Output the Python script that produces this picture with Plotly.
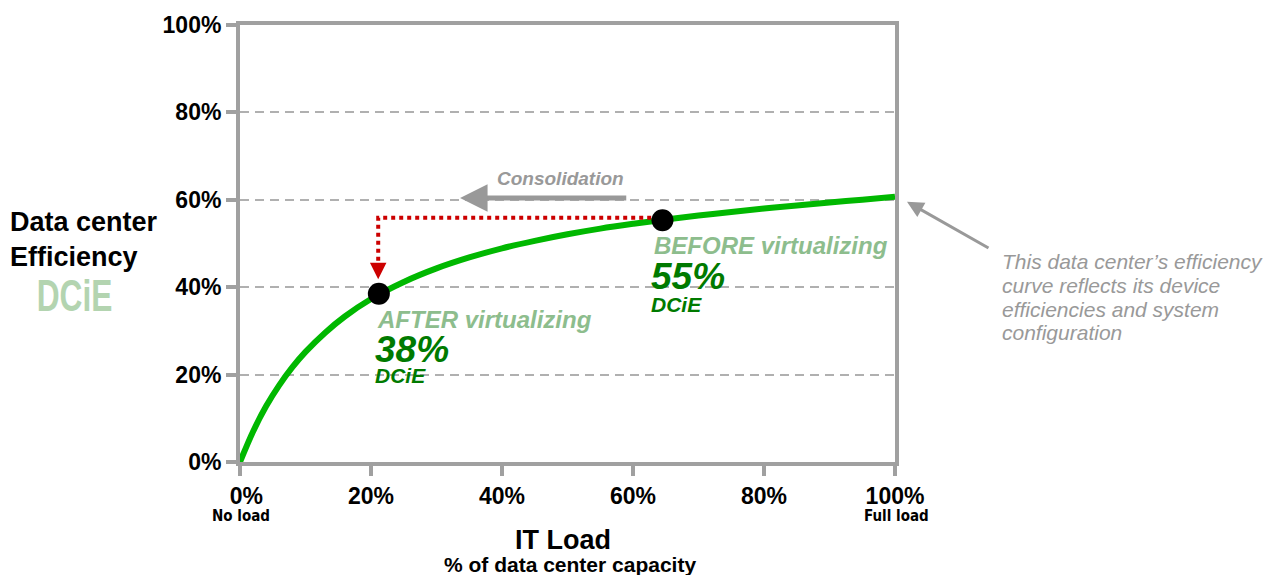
import plotly.graph_objects as go

# ---- data ----
load_pct = [0, 2, 4, 6, 8, 10, 13, 16, 20, 25, 30, 35, 40, 45, 50, 55, 60, 65, 70, 75, 80, 85, 90, 95, 100]
dcie = [0.0, 0.07, 0.128, 0.176, 0.217, 0.252, 0.296, 0.333, 0.373, 0.412, 0.443, 0.468,
        0.489, 0.506, 0.521, 0.534, 0.545, 0.555, 0.564, 0.572, 0.580, 0.587, 0.594, 0.600, 0.607]

point_x = [21.2, 64.5]
point_y = [0.385, 0.553]

consol_x = [64.0, 21.1, 21.1]
consol_y = [0.559, 0.559, 0.44]

x_ticks = [0, 20, 40, 60, 80, 100]
x_ticktext = ["\u20070%", "20%", "40%", "60%", "80%", "100%"]
y_ticks = [0, 0.2, 0.4, 0.6, 0.8, 1.0]
y_ticktext = ["0%", "20%", "40%", "60%", "80%", "100%"]

note_lines = ["This data center’s efficiency", "curve reflects its device",
              "efficiencies and system", "configuration"]

FONT = "Liberation Sans, Arial, sans-serif"
NARROW = "DejaVu Sans Condensed, Liberation Sans Narrow, Arial Narrow, Liberation Sans, sans-serif"
GREY = "#a0a0a0"
LIGHT_GREEN = "#8dbd8d"
DARK_GREEN = "#007a00"

fig = go.Figure()

fig.add_trace(go.Scatter(x=load_pct, y=dcie, mode="lines",
                         line=dict(color="#00b800", width=6, shape="spline"),
                         hoverinfo="skip", showlegend=False))

fig.add_trace(go.Scatter(x=consol_x, y=consol_y, mode="lines",
                         line=dict(color="#cc0000", width=4, dash="dot"),
                         hoverinfo="skip", showlegend=False))

fig.add_trace(go.Scatter(x=point_x, y=point_y, mode="markers",
                         marker=dict(color="black", size=22),
                         hoverinfo="skip", showlegend=False))


# paper coords relative to plot area: x 240..895 px, y 462..22 px
def px(xp):
    return (xp - 240) / 655.0


def py(yp):
    return (462 - yp) / 440.0


ann = []
# red arrowhead
ann.append(dict(x=21.1, y=0.418, ax=21.1, ay=0.445, xref="x", yref="y", axref="x", ayref="y",
                showarrow=True, arrowhead=2, arrowsize=1.1, arrowwidth=3, arrowcolor="#cc0000", text=""))
# consolidation arrow
ann.append(dict(x=33.6, y=0.604, ax=59.2, ay=0.604, xref="x", yref="y", axref="x", ayref="y",
                showarrow=True, arrowhead=2, arrowsize=1.1, arrowwidth=5, arrowcolor="#999999", text=""))
ann.append(dict(x=48.9, y=0.648, xref="x", yref="y", text="Consolidation", showarrow=False,
                font=dict(family=FONT, size=19, color="#999999", weight="bold", style="italic")))
# pointer arrow from right note
ann.append(dict(x=px(907), y=py(200), ax=83, ay=47, xref="paper", yref="paper",
                axref="pixel", ayref="pixel",
                showarrow=True, arrowhead=2, arrowsize=1.1, arrowwidth=3, arrowcolor="#999999", text=""))
note_y = [260, 284, 308, 332]
for line, ypix in zip(note_lines, note_y):
    ann.append(dict(x=px(1000), y=py(ypix), xref="paper", yref="paper", xanchor="left", yanchor="middle",
                    align="left", text=line, showarrow=False,
                    font=dict(family=FONT, size=21, color="#999999", style="italic")))

# BEFORE labels
ann.append(dict(x=62.9, y=0.495, xref="x", yref="y", xanchor="left", text="BEFORE virtualizing",
                showarrow=False, font=dict(family=FONT, size=24, color=LIGHT_GREEN, weight="bold", style="italic")))
ann.append(dict(x=62.5, y=0.425, xref="x", yref="y", xanchor="left", text="55%",
                showarrow=False, font=dict(family=FONT, size=37, color=DARK_GREEN, weight="bold", style="italic")))
ann.append(dict(x=62.5, y=0.361, xref="x", yref="y", xanchor="left", text="DCiE",
                showarrow=False, font=dict(family=FONT, size=21, color=DARK_GREEN, weight="bold", style="italic")))
# AFTER labels
ann.append(dict(x=20.6, y=0.325, xref="x", yref="y", xanchor="left", text="AFTER virtualizing",
                showarrow=False, font=dict(family=FONT, size=24, color=LIGHT_GREEN, weight="bold", style="italic")))
ann.append(dict(x=20.3, y=0.257, xref="x", yref="y", xanchor="left", text="38%",
                showarrow=False, font=dict(family=FONT, size=37, color=DARK_GREEN, weight="bold", style="italic")))
ann.append(dict(x=20.3, y=0.197, xref="x", yref="y", xanchor="left", text="DCiE",
                showarrow=False, font=dict(family=FONT, size=21, color=DARK_GREEN, weight="bold", style="italic")))

# axis titles
ann.append(dict(x=px(8), y=py(238), xref="paper", yref="paper", xanchor="left", yanchor="middle", align="left",
                text="Data center<br>Efficiency", showarrow=False,
                font=dict(family=FONT, size=27, color="black", weight="bold")))
ann.append(dict(x=px(74), y=py(294), xref="paper", yref="paper", xanchor="center", yanchor="middle",
                text="DCiE", showarrow=False,
                font=dict(family=FONT, size=44, color="#b3d4b0", weight="bold")))
ann.append(dict(x=px(241), y=py(516), xref="paper", yref="paper", xanchor="center", yanchor="middle",
                text="No load", showarrow=False,
                font=dict(family=NARROW, size=15, color="black", weight="bold")))
ann.append(dict(x=px(896), y=py(516), xref="paper", yref="paper", xanchor="center", yanchor="middle",
                text="Full load", showarrow=False,
                font=dict(family=NARROW, size=15, color="black", weight="bold")))
ann.append(dict(x=px(563), y=py(541), xref="paper", yref="paper", xanchor="center", yanchor="middle",
                text="IT Load", showarrow=False,
                font=dict(family=FONT, size=27, color="black", weight="bold")))
ann.append(dict(x=px(570), y=py(565), xref="paper", yref="paper", xanchor="center", yanchor="middle",
                text="% of data center capacity", showarrow=False,
                font=dict(family=FONT, size=21, color="black", weight="bold")))

fig.update_layout(
    width=1268, height=575,
    margin=dict(l=240, r=373, t=22, b=113),
    paper_bgcolor="white", plot_bgcolor="white",
    annotations=ann,
    showlegend=False,
)

fig.update_xaxes(range=[0, 100], tickvals=x_ticks, ticktext=x_ticktext,
                 showline=True, mirror=True, linewidth=4, linecolor=GREY,
                 ticks="outside", ticklen=10, tickwidth=4, tickcolor=GREY,
                 showgrid=False, zeroline=False,
                 tickfont=dict(family=FONT, size=23, color="black", weight="bold"))
fig.update_yaxes(range=[0, 1], tickvals=y_ticks, ticktext=y_ticktext,
                 showline=True, mirror=True, linewidth=4, linecolor=GREY,
                 ticks="outside", ticklen=10, tickwidth=4, tickcolor=GREY,
                 showgrid=True, gridcolor="#b0b0b0", gridwidth=2, griddash="9px,6px",
                 zeroline=False,
                 tickfont=dict(family=FONT, size=23, color="black", weight="bold"))

post = """
document.body.style.margin='0';
document.body.style.padding='0';
document.querySelectorAll('text').forEach(function(t){
  var s = t.getAttribute('style') || '';
  if (t.textContent === 'DCiE' && s.indexOf('179, 212, 176') >= 0) {
    t.style.transformBox = 'fill-box';
    t.style.transformOrigin = 'center';
    t.style.transform = 'scaleX(0.72)';
  }
});
"""

fig.write_html("out.html", config={"displayModeBar": False}, post_script=post)
